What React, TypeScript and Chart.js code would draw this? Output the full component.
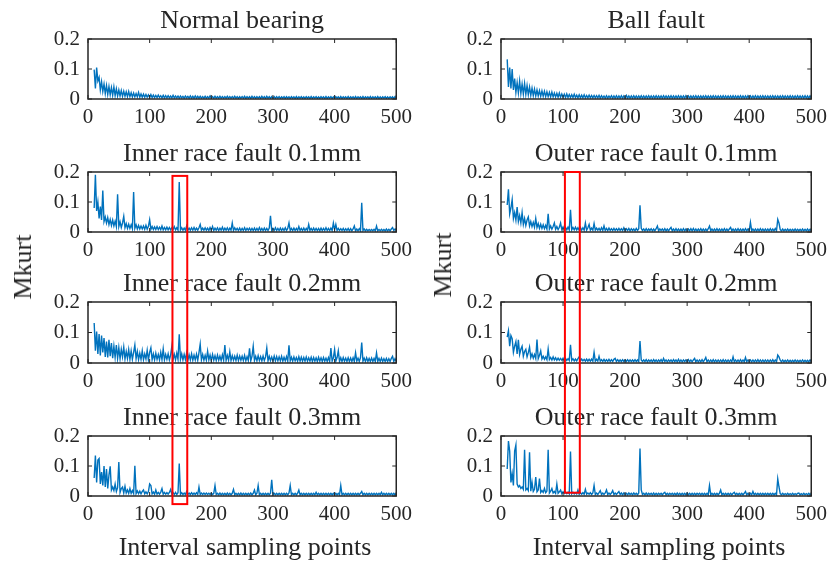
import React, { useEffect, useRef } from "react";
import { Chart, registerables } from "chart.js";

Chart.register(...registerables);

const FONT = "'Liberation Serif', 'Times New Roman', Times, serif";
const INK = "#262626";
const LINE_BLUE = "#0072BD";
const HIGHLIGHT_RED = "#FF0000";

const panelTitles = [
  "Normal bearing",
  "Ball fault",
  "Inner race fault 0.1mm",
  "Outer race fault 0.1mm",
  "Inner race fault 0.2mm",
  "Outer race fault 0.2mm",
  "Inner race fault 0.3mm",
  "Outer race fault 0.3mm",
];
const yAxisLabel = "Mkurt";
const xAxisLabel = "Interval sampling points";
const xTickValues = [0, 100, 200, 300, 400, 500];
const yTickValues = [0, 0.1, 0.2];
const firstSamplePoint = 10;
const samplePointStep = 2;

// Mkurt values x 1000, one value per sampled interval point (10, 12, ... 500)
const normalBearing = [
  98, 35, 105, 60, 72, 30, 58, 25, 50, 18,
  45, 15, 42, 14, 38, 12, 40, 11, 34, 10,
  30, 10, 28, 9, 26, 9, 24, 8, 25, 8,
  21, 7, 20, 7, 18, 7, 22, 6, 17, 6,
  16, 6, 15, 6, 14, 5, 15, 5, 13, 5,
  12, 5, 13, 5, 11, 4, 12, 4, 11, 4,
  11, 4, 10, 4, 12, 4, 10, 4, 10, 3,
  10, 4, 9, 3, 10, 4, 9, 3, 10, 3,
  9, 3, 10, 3, 9, 3, 9, 3, 8, 3,
  9, 3, 8, 3, 10, 3, 8, 3, 9, 3,
  8, 3, 9, 3, 8, 3, 8, 3, 9, 3,
  8, 3, 8, 3, 9, 3, 8, 2, 8, 3,
  8, 3, 9, 2, 8, 3, 8, 2, 9, 3,
  8, 2, 8, 3, 8, 2, 9, 3, 8, 2,
  9, 3, 8, 2, 8, 3, 8, 2, 8, 3,
  8, 2, 7, 3, 8, 2, 8, 3, 7, 2,
  8, 3, 7, 2, 8, 2, 7, 3, 8, 2,
  7, 2, 8, 3, 7, 2, 8, 2, 7, 3,
  8, 2, 7, 2, 8, 3, 7, 2, 8, 2,
  7, 3, 8, 2, 7, 2, 8, 3, 7, 2,
  8, 2, 7, 3, 7, 2, 8, 2, 7, 3,
  7, 2, 8, 2, 7, 3, 7, 2, 8, 2,
  7, 3, 7, 2, 8, 2, 7, 3, 7, 2,
  8, 2, 7, 2, 7, 3, 8, 2, 7, 2,
  7, 3, 7, 2, 8, 3,
];

const ballFault = [
  132, 40, 105, 35, 100, 30, 68, 22, 55, 20,
  60, 18, 50, 16, 52, 15, 45, 14, 40, 12,
  36, 11, 33, 10, 30, 10, 28, 9, 27, 9,
  26, 8, 24, 8, 22, 7, 23, 7, 20, 7,
  19, 6, 20, 6, 17, 6, 16, 5, 17, 5,
  15, 5, 14, 5, 16, 5, 13, 4, 14, 4,
  13, 4, 14, 4, 12, 4, 13, 4, 12, 4,
  12, 4, 11, 4, 12, 3, 11, 4, 10, 3,
  11, 3, 10, 4, 11, 3, 10, 3, 11, 3,
  10, 3, 11, 3, 10, 3, 12, 3, 10, 3,
  10, 3, 11, 3, 10, 3, 10, 3, 11, 3,
  10, 3, 10, 3, 11, 3, 10, 3, 10, 3,
  11, 3, 10, 3, 10, 3, 11, 3, 10, 3,
  10, 3, 11, 3, 10, 3, 10, 3, 11, 3,
  10, 3, 10, 3, 11, 3, 10, 3, 10, 3,
  10, 3, 11, 3, 10, 3, 10, 3, 10, 3,
  11, 3, 10, 3, 10, 3, 11, 3, 10, 3,
  10, 3, 10, 3, 11, 3, 10, 3, 10, 3,
  10, 3, 11, 3, 10, 3, 10, 3, 11, 3,
  10, 3, 10, 3, 11, 3, 10, 3, 10, 3,
  11, 3, 10, 3, 10, 3, 11, 3, 10, 3,
  10, 3, 10, 3, 11, 3, 10, 3, 10, 3,
  10, 3, 11, 3, 10, 3, 10, 3, 11, 3,
  10, 3, 10, 3, 11, 3, 10, 3, 10, 3,
  11, 3, 10, 3, 10, 3,
];

const innerRace01 = [
  80, 191, 70, 100, 45, 85, 40, 138, 35, 50,
  30, 48, 25, 42, 22, 40, 20, 36, 18, 126,
  18, 34, 15, 30, 52, 14, 28, 12, 26, 12,
  24, 11, 133, 12, 24, 10, 22, 10, 20, 10,
  20, 9, 22, 9, 19, 41, 9, 18, 8, 17,
  8, 18, 8, 16, 8, 20, 7, 15, 7, 16,
  7, 15, 7, 14, 8, 18, 7, 14, 6, 167,
  7, 14, 6, 13, 6, 20, 6, 13, 6, 14,
  6, 15, 6, 13, 6, 14, 25, 6, 13, 6,
  14, 6, 13, 5, 15, 6, 18, 5, 13, 6,
  14, 5, 13, 6, 16, 5, 13, 6, 14, 5,
  13, 6, 30, 5, 14, 6, 12, 5, 13, 5,
  12, 5, 14, 5, 12, 6, 13, 5, 12, 5,
  13, 5, 12, 5, 15, 5, 12, 5, 13, 5,
  12, 5, 13, 54, 5, 12, 5, 14, 5, 12,
  5, 13, 5, 12, 5, 14, 5, 12, 30, 5,
  12, 5, 13, 5, 12, 5, 18, 5, 12, 5,
  13, 5, 12, 5, 25, 5, 12, 5, 13, 5,
  12, 5, 12, 4, 13, 5, 12, 5, 14, 5,
  12, 5, 13, 5, 30, 8, 25, 5, 12, 5,
  11, 5, 12, 4, 11, 5, 12, 4, 11, 4,
  10, 20, 4, 10, 4, 11, 4, 97, 5, 10,
  4, 9, 4, 8, 4, 8, 4, 9, 4, 20,
  4, 8, 4, 9, 4, 8, 4, 10, 4, 9,
  4, 10, 15, 5, 10, 5,
];

const outerRace01 = [
  90, 142, 60, 80, 108, 45, 65, 40, 83, 35,
  55, 30, 65, 25, 45, 22, 40, 50, 20, 35,
  18, 32, 16, 45, 15, 28, 12, 26, 12, 24,
  11, 22, 10, 61, 10, 20, 9, 18, 30, 9,
  18, 8, 16, 30, 8, 17, 8, 15, 7, 16,
  7, 74, 7, 15, 7, 16, 7, 14, 6, 15,
  6, 14, 6, 30, 6, 14, 25, 6, 13, 6,
  28, 6, 13, 6, 12, 5, 14, 5, 20, 5,
  12, 5, 13, 5, 11, 5, 12, 5, 11, 5,
  12, 5, 11, 5, 14, 4, 11, 5, 12, 4,
  11, 5, 10, 4, 12, 5, 11, 89, 12, 5,
  10, 4, 11, 4, 10, 5, 11, 4, 10, 4,
  11, 20, 4, 10, 5, 10, 4, 11, 4, 10,
  4, 10, 15, 4, 10, 4, 11, 4, 10, 4,
  10, 4, 11, 4, 10, 4, 10, 4, 11, 4,
  12, 4, 10, 4, 10, 4, 11, 4, 10, 4,
  10, 4, 11, 20, 4, 10, 4, 10, 4, 11,
  4, 10, 4, 10, 4, 11, 4, 10, 4, 10,
  15, 4, 10, 4, 10, 4, 11, 4, 10, 4,
  10, 4, 11, 4, 10, 4, 32, 4, 10, 4,
  10, 4, 10, 4, 11, 4, 10, 4, 10, 4,
  10, 4, 11, 4, 10, 4, 12, 4, 42, 30,
  8, 4, 10, 4, 9, 4, 10, 4, 9, 4,
  9, 4, 10, 4, 9, 4, 9, 4, 10, 4,
  9, 4, 10, 4, 9, 4,
];

const innerRace02 = [
  131, 40, 103, 30, 95, 25, 90, 35, 82, 20,
  70, 18, 76, 22, 65, 16, 55, 18, 59, 15,
  50, 14, 45, 20, 52, 13, 38, 15, 44, 12,
  40, 12, 35, 59, 14, 38, 11, 32, 12, 40,
  11, 30, 13, 42, 10, 35, 50, 11, 30, 10,
  32, 12, 28, 10, 35, 11, 46, 10, 28, 12,
  30, 10, 26, 55, 11, 28, 10, 32, 12, 94,
  12, 30, 10, 28, 11, 33, 9, 27, 10, 30,
  9, 26, 10, 29, 9, 34, 62, 10, 28, 9,
  25, 9, 39, 10, 26, 8, 28, 9, 24, 8,
  26, 9, 23, 8, 27, 9, 59, 8, 25, 9,
  37, 8, 24, 9, 22, 8, 26, 8, 23, 9,
  22, 8, 25, 7, 21, 8, 48, 7, 22, 55,
  8, 22, 7, 24, 8, 21, 7, 23, 8, 20,
  49, 7, 22, 8, 20, 7, 23, 7, 21, 7,
  20, 7, 22, 6, 19, 7, 21, 6, 58, 7,
  19, 6, 20, 7, 18, 6, 21, 6, 19, 6,
  18, 6, 20, 6, 17, 6, 19, 5, 18, 6,
  17, 5, 19, 6, 17, 5, 18, 6, 16, 5,
  18, 5, 49, 6, 17, 44, 6, 18, 40, 5,
  17, 5, 18, 6, 16, 5, 17, 5, 16, 5,
  17, 5, 33, 6, 16, 5, 18, 67, 6, 16,
  5, 17, 5, 15, 5, 16, 5, 15, 5, 33,
  5, 15, 5, 16, 5, 14, 5, 15, 5, 14,
  5, 15, 22, 5, 14, 6,
];

const outerRace02 = [
  85, 106, 55, 90, 80, 35, 55, 70, 30, 76,
  28, 45, 55, 22, 38, 45, 20, 34, 52, 18,
  30, 16, 28, 15, 77, 14, 25, 40, 13, 22,
  12, 20, 11, 46, 11, 18, 10, 20, 10, 17,
  9, 16, 9, 15, 9, 16, 8, 15, 8, 14,
  8, 60, 8, 14, 7, 13, 7, 14, 20, 7,
  13, 7, 12, 6, 13, 6, 12, 6, 13, 6,
  35, 6, 12, 6, 22, 6, 11, 5, 12, 5,
  11, 5, 12, 5, 11, 5, 12, 15, 5, 11,
  5, 10, 5, 11, 5, 10, 5, 11, 5, 10,
  5, 10, 5, 11, 5, 10, 5, 72, 10, 5,
  10, 5, 11, 4, 10, 5, 10, 4, 11, 5,
  10, 4, 10, 5, 11, 4, 15, 5, 10, 4,
  10, 5, 10, 4, 11, 5, 10, 4, 12, 4,
  10, 4, 10, 5, 10, 4, 11, 4, 10, 4,
  10, 15, 4, 10, 4, 10, 4, 11, 4, 10,
  18, 4, 10, 4, 10, 4, 11, 4, 10, 4,
  10, 4, 10, 4, 11, 4, 10, 4, 10, 4,
  10, 4, 20, 4, 10, 4, 10, 4, 11, 4,
  10, 4, 18, 4, 10, 4, 10, 4, 10, 4,
  10, 4, 11, 4, 10, 4, 10, 4, 10, 4,
  10, 4, 10, 4, 11, 4, 10, 4, 26, 20,
  9, 4, 10, 4, 9, 4, 10, 4, 9, 4,
  9, 4, 10, 4, 9, 4, 9, 4, 10, 4,
  9, 4, 9, 4, 10, 4,
];

const innerRace03 = [
  60, 135, 45, 120, 125, 40, 80, 35, 100, 30,
  90, 25, 70, 99, 20, 30, 18, 40, 15, 28,
  113, 12, 25, 30, 10, 32, 10, 20, 9, 25,
  9, 18, 8, 101, 8, 17, 8, 16, 7, 15,
  20, 7, 14, 7, 15, 40, 35, 7, 13, 6,
  20, 6, 12, 6, 13, 25, 6, 12, 6, 11,
  6, 12, 22, 6, 11, 5, 12, 5, 11, 108,
  5, 11, 5, 10, 5, 15, 5, 10, 5, 11,
  5, 10, 5, 11, 5, 30, 5, 10, 5, 10,
  5, 10, 5, 9, 5, 10, 5, 9, 35, 5,
  9, 4, 10, 4, 9, 4, 9, 4, 10, 4,
  9, 4, 9, 22, 4, 9, 4, 9, 4, 10,
  4, 9, 4, 9, 4, 9, 4, 10, 4, 9,
  20, 4, 9, 35, 4, 9, 4, 9, 4, 9,
  4, 9, 4, 9, 54, 4, 9, 4, 9, 4,
  9, 4, 9, 4, 9, 4, 9, 4, 10, 35,
  4, 9, 4, 9, 4, 9, 20, 4, 9, 4,
  9, 4, 9, 4, 9, 4, 9, 4, 9, 4,
  12, 4, 9, 4, 9, 4, 9, 4, 9, 4,
  9, 4, 9, 4, 9, 4, 9, 4, 9, 4,
  35, 4, 9, 4, 9, 4, 9, 4, 9, 4,
  9, 4, 9, 4, 9, 4, 9, 15, 4, 9,
  4, 9, 4, 9, 4, 9, 4, 9, 4, 9,
  4, 9, 4, 12, 4, 9, 4, 9, 4, 9,
  4, 9, 4, 9, 4, 9,
];

const outerRace03 = [
  90, 183, 150, 45, 75, 35, 150, 170, 40, 30,
  35, 25, 30, 22, 154, 20, 25, 18, 146, 16,
  46, 15, 22, 63, 14, 20, 58, 12, 18, 12,
  25, 11, 17, 154, 10, 16, 25, 10, 15, 9,
  40, 9, 14, 20, 8, 14, 8, 13, 8, 12,
  7, 148, 7, 12, 7, 11, 7, 20, 6, 11,
  6, 11, 6, 22, 6, 10, 6, 11, 5, 10,
  35, 5, 10, 5, 11, 18, 5, 10, 5, 10,
  20, 5, 10, 5, 10, 18, 5, 10, 5, 10,
  15, 5, 10, 4, 10, 5, 9, 4, 10, 5,
  9, 4, 10, 5, 9, 4, 10, 158, 20, 5,
  9, 4, 10, 4, 9, 5, 9, 4, 10, 4,
  9, 4, 9, 5, 9, 4, 9, 12, 4, 9,
  4, 9, 5, 9, 4, 9, 4, 10, 4, 9,
  4, 9, 4, 9, 4, 10, 4, 9, 4, 9,
  4, 9, 4, 9, 5, 9, 4, 9, 4, 9,
  4, 9, 4, 35, 4, 9, 4, 9, 4, 9,
  4, 9, 20, 4, 9, 4, 9, 4, 9, 4,
  9, 4, 9, 12, 4, 9, 4, 9, 4, 9,
  4, 9, 15, 4, 9, 4, 9, 4, 15, 4,
  9, 4, 9, 4, 9, 4, 9, 4, 9, 4,
  9, 4, 9, 4, 9, 4, 9, 4, 57, 30,
  8, 4, 9, 4, 8, 4, 9, 4, 8, 4,
  9, 4, 8, 4, 9, 10, 4, 8, 4, 9,
  4, 8, 4, 9, 4, 8,
];

const panelSeries = [
  normalBearing,
  ballFault,
  innerRace01,
  outerRace01,
  innerRace02,
  outerRace02,
  innerRace03,
  outerRace03,
];

// red highlight boxes, in data units of the panels they span
const innerHighlight = { col: 0, topRow: 1, bottomRow: 3, xFrom: 137, xTo: 161, yTop: 0.187, yBottom: -0.027 };
const outerHighlight = { col: 1, topRow: 1, bottomRow: 3, xFrom: 103, xTo: 127, yTop: 0.2, yBottom: 0.011 };

// layout of the panel canvases
const columns = [
  { left: 0, width: 418 },
  { left: 413, width: 420 },
];
const rows = [
  { top: 0, height: 134 },
  { top: 133, height: 134 },
  { top: 263, height: 135 },
  { top: 397, height: 134 },
];

const matlabBoxPlugin = {
  id: "matlabBox",
  afterDraw(chart: any) {
    const { ctx, chartArea: a, scales } = chart;
    const xs = scales.x;
    const ys = scales.y;
    ctx.save();
    ctx.strokeStyle = INK;
    ctx.lineWidth = 1.5;
    ctx.strokeRect(a.left, a.top, a.right - a.left, a.bottom - a.top);
    ctx.lineWidth = 1;
    const tl = 4;
    ctx.beginPath();
    for (const v of xTickValues) {
      const px = xs.getPixelForValue(v);
      ctx.moveTo(px, a.bottom);
      ctx.lineTo(px, a.bottom - tl);
      ctx.moveTo(px, a.top);
      ctx.lineTo(px, a.top + tl);
    }
    for (const v of yTickValues) {
      const py = ys.getPixelForValue(v);
      ctx.moveTo(a.left, py);
      ctx.lineTo(a.left + tl, py);
      ctx.moveTo(a.right, py);
      ctx.lineTo(a.right - tl, py);
    }
    ctx.stroke();
    ctx.restore();
  },
};

export default function App() {
  const canvasRefs = useRef<(HTMLCanvasElement | null)[]>([]);
  const overlayRef = useRef<HTMLCanvasElement | null>(null);

  useEffect(() => {
    const charts = panelSeries.map((series, i) => {
      const canvas = canvasRefs.current[i] as HTMLCanvasElement;
      const points = series.map((v, k) => ({ x: firstSamplePoint + samplePointStep * k, y: v / 1000 }));
      return new Chart(canvas, {
        type: "line",
        data: {
          datasets: [
            {
              data: points,
              borderColor: LINE_BLUE,
              borderWidth: 1.4,
              pointRadius: 0,
              tension: 0,
              fill: false,
            },
          ],
        },
        options: {
          animation: false,
          responsive: false,
          events: [],
          layout: { padding: { top: 0, right: 16, bottom: 0, left: 0 } },
          plugins: {
            legend: { display: false },
            tooltip: { enabled: false },
            title: {
              display: true,
              text: panelTitles[i],
              fullSize: false,
              color: INK,
              font: { family: FONT, size: 26, weight: "normal", lineHeight: 1.2 },
              padding: { top: 6, bottom: 1.8 },
            },
          },
          scales: {
            x: {
              type: "linear",
              min: 0,
              max: 500,
              afterFit: (s: any) => {
                s.height = 35;
              },
              grid: { display: false, drawTicks: false },
              border: { display: false },
              ticks: {
                stepSize: 100,
                color: INK,
                font: { family: FONT, size: 21 },
                padding: 6,
                maxRotation: 0,
                autoSkip: false,
              },
            },
            y: {
              type: "linear",
              min: 0,
              max: 0.2,
              afterFit: (s: any) => {
                s.width = 88;
              },
              grid: { display: false, drawTicks: false },
              border: { display: false },
              ticks: {
                stepSize: 0.1,
                color: INK,
                font: { family: FONT, size: 21 },
                padding: 8,
              },
            },
          },
        },
        plugins: [matlabBoxPlugin],
      } as any);
    });

    const overlay = overlayRef.current as HTMLCanvasElement;
    const ctx = overlay.getContext("2d") as CanvasRenderingContext2D;
    ctx.clearRect(0, 0, overlay.width, overlay.height);
    for (const h of [innerHighlight, outerHighlight]) {
      const topChart: any = charts[h.topRow * 2 + h.col];
      const bottomChart: any = charts[h.bottomRow * 2 + h.col];
      const ox = columns[h.col].left;
      const x1 = ox + topChart.scales.x.getPixelForValue(h.xFrom);
      const x2 = ox + topChart.scales.x.getPixelForValue(h.xTo);
      const y1 = rows[h.topRow].top + topChart.scales.y.getPixelForValue(h.yTop);
      const y2 = rows[h.bottomRow].top + bottomChart.scales.y.getPixelForValue(h.yBottom);
      ctx.strokeStyle = HIGHLIGHT_RED;
      ctx.lineWidth = 2;
      ctx.strokeRect(x1, y1, x2 - x1, y2 - y1);
    }

    return () => {
      charts.forEach((c) => c.destroy());
    };
  }, []);

  const textStyle: React.CSSProperties = {
    position: "absolute",
    fontFamily: FONT,
    fontSize: 26,
    lineHeight: "26px",
    whiteSpace: "nowrap",
    color: INK,
  };

  return (
    <div
      style={{
        position: "absolute",
        left: 0,
        top: 0,
        width: 835,
        height: 562,
        background: "#ffffff",
        overflow: "hidden",
      }}
    >
      {panelSeries.map((_, i) => {
        const row = Math.floor(i / 2);
        const col = i % 2;
        return (
          <canvas
            key={i}
            ref={(el) => {
              canvasRefs.current[i] = el;
            }}
            width={columns[col].width}
            height={rows[row].height}
            style={{ position: "absolute", left: columns[col].left, top: rows[row].top }}
          />
        );
      })}
      <canvas
        ref={overlayRef}
        width={835}
        height={562}
        style={{ position: "absolute", left: 0, top: 0, pointerEvents: "none" }}
      />
      <div style={{ ...textStyle, left: 23, top: 267, transform: "translate(-50%, -50%) rotate(-90deg)" }}>
        {yAxisLabel}
      </div>
      <div style={{ ...textStyle, left: 443, top: 265, transform: "translate(-50%, -50%) rotate(-90deg)" }}>
        {yAxisLabel}
      </div>
      <div style={{ ...textStyle, left: 245, top: 534, transform: "translateX(-50%)" }}>{xAxisLabel}</div>
      <div style={{ ...textStyle, left: 659, top: 534, transform: "translateX(-50%)" }}>{xAxisLabel}</div>
    </div>
  );
}
